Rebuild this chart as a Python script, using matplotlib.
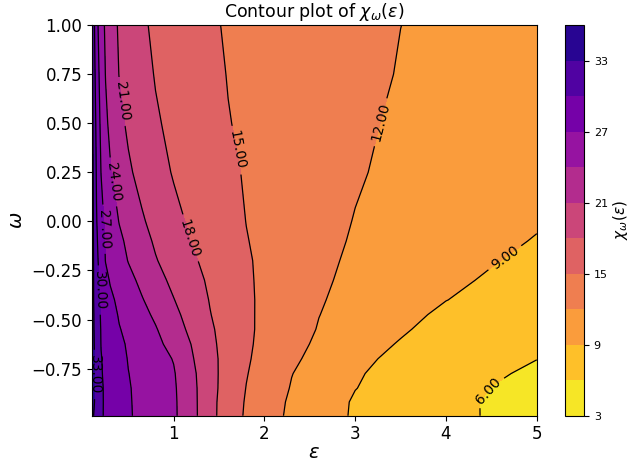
import numpy as np
import matplotlib
matplotlib.use("Agg")
import matplotlib.pyplot as plt

# sample grid: epsilon along x, omega along y
eps = [0.1, 0.12, 0.15, 0.2, 0.25, 0.3, 0.4, 0.5, 0.65, 0.8, 1.0, 1.2, 1.4,
       1.6, 1.8, 2.0, 2.3, 2.6, 3.0, 3.5, 4.0, 4.5, 5.0]
omega = [1.0, 0.75, 0.5, 0.25, 0.0, -0.1, -0.2, -0.3, -0.4, -0.475, -0.55,
         -0.625, -0.7, -0.775, -0.85, -0.92, -0.99]

# chi_omega(eps), one row per omega value
chi_w100 = [33.8, 30.75, 27.86, 25.29, 23.54, 22.38, 20.64, 19.73, 18.36, 17.58, 16.81, 16.04,
            15.27, 14.81, 14.51, 14.22, 13.78, 13.34, 12.75, 12.01, 11.55, 11.14, 10.78]
chi_w075 = [33.9, 31.3, 28.5, 25.8, 23.9, 22.86, 20.92, 20.11, 18.89, 17.85, 17.09, 16.33,
            15.57, 14.92, 14.59, 14.27, 13.78, 13.3, 12.65, 11.88, 11.45, 11.05, 10.7]
chi_w050 = [34.0, 32.0, 29.25, 26.29, 24.53, 23.4, 21.69, 20.55, 19.43, 18.3, 17.38, 16.62,
            15.85, 15.08, 14.67, 14.3, 13.76, 13.21, 12.48, 11.6, 11.1, 10.6, 10.2]
chi_w025 = [34.1, 32.27, 29.73, 26.95, 25.5, 24.27, 22.77, 21.41, 20.14, 19.07, 17.8, 17.01,
            16.22, 15.43, 14.81, 14.38, 13.74, 13.11, 12.26, 11.35, 10.7, 10.1, 9.6]
chi_w000 = [34.3, 32.57, 30.16, 27.88, 26.47, 25.59, 23.9, 22.86, 21.31, 20.14, 18.71, 17.57,
            16.7, 15.83, 14.97, 14.46, 13.69, 12.92, 11.9, 11.26, 10.59, 9.9, 9.25]
chi_wm010 = [34.2, 32.7, 30.45, 28.26, 26.74, 26.02, 24.58, 23.42, 21.97, 20.64, 19.21, 17.86,
             16.94, 16.02, 15.09, 14.5, 13.66, 12.82, 11.73, 11.09, 10.35, 9.6, 8.85]
chi_wm020 = [34.2, 32.79, 30.7, 28.67, 26.9, 26.35, 25.18, 23.9, 22.55, 21.18, 19.76, 18.38,
             17.27, 16.26, 15.25, 14.54, 13.62, 12.7, 11.48, 10.86, 10.02, 9.17, 8.35]
chi_wm030 = [34.04, 32.88, 31.15, 29.18, 27.82, 26.8, 25.8, 24.8, 23.36, 22.0, 20.36, 18.93,
             17.6, 16.47, 15.34, 14.53, 13.53, 12.53, 11.2, 10.55, 9.57, 8.68, 7.92]
chi_wm040 = [34.1, 32.9, 31.32, 29.52, 28.55, 27.58, 26.38, 25.5, 24.18, 22.85, 21.09, 19.46,
             17.88, 16.65, 15.43, 14.51, 13.37, 12.23, 11.08, 10.12, 9.04, 8.24, 7.44]
chi_wm048 = [34.0, 33.05, 31.53, 29.68, 28.89, 28.11, 26.76, 25.97, 24.79, 23.54, 21.69, 19.88,
             18.09, 16.76, 15.46, 14.47, 13.26, 12.04, 11.02, 9.76, 8.49, 7.89, 7.09]
chi_wm055 = [34.0, 33.09, 31.76, 29.86, 29.18, 28.5, 27.14, 26.36, 25.29, 24.21, 22.3, 20.32,
             18.39, 16.88, 15.49, 14.43, 13.1, 11.86, 10.74, 9.2, 8.38, 7.56, 6.74]
chi_wm063 = [34.07, 33.21, 31.93, 29.94, 29.35, 28.76, 27.59, 26.67, 25.7, 24.72, 23.04, 20.89,
             18.62, 16.93, 15.44, 14.3, 12.8, 11.57, 9.74, 8.88, 8.05, 7.21, 6.38]
chi_wm070 = [33.95, 33.3, 32.1, 30.1, 29.51, 28.96, 27.87, 26.88, 26.0, 25.12, 23.87, 21.26,
             18.84, 16.95, 15.32, 14.11, 12.44, 11.24, 9.42, 8.58, 7.73, 6.88, 6.03]
chi_wm078 = [34.09, 33.31, 32.14, 30.19, 29.54, 29.03, 28.02, 27.05, 26.19, 25.35, 24.22, 21.66,
             18.93, 16.87, 15.13, 13.88, 12.06, 10.91, 9.21, 8.25, 7.28, 6.31, 5.6]
chi_wm085 = [33.88, 33.3, 32.17, 30.35, 29.61, 29.13, 28.16, 27.19, 26.29, 25.47, 24.38, 21.83,
             18.95, 16.78, 14.94, 13.66, 11.84, 10.62, 9.05, 8.01, 6.99, 5.96, 5.3]
chi_wm092 = [34.02, 33.29, 32.2, 30.37, 29.62, 29.14, 28.19, 27.24, 26.33, 25.53, 24.46, 21.91,
             18.86, 16.62, 14.76, 13.38, 11.59, 10.37, 8.73, 7.82, 6.77, 5.74, 5.05]
chi_wm099 = [33.67, 32.93, 31.96, 30.33, 29.63, 29.16, 28.22, 27.28, 26.36, 25.55, 24.48, 21.94,
             18.86, 16.55, 14.64, 13.21, 11.48, 10.28, 8.68, 7.79, 6.75, 5.75, 4.85]

levels = np.arange(3, 37, 3)
cbar_ticks = [3, 9, 15, 21, 27, 33]
# where the inline labels sit (eps, omega)
label_spots = [(0.125, -0.78), (0.17, -0.35), (0.22, -0.04), (0.32, 0.2), (0.42, 0.61),
               (1.14, -0.09), (1.66, 0.36), (3.24, 0.51), (4.64, -0.18), (4.46, -0.86)]

Z = np.array([chi_w100, chi_w075, chi_w050, chi_w025, chi_w000, chi_wm010, chi_wm020,
              chi_wm030, chi_wm040, chi_wm048, chi_wm055, chi_wm063, chi_wm070,
              chi_wm078, chi_wm085, chi_wm092, chi_wm099])
E, W = np.meshgrid(eps, omega)

fig = plt.figure(figsize=(6.3, 4.65), dpi=100)
ax = fig.add_axes([0.146, 0.106, 0.706, 0.840])
cax = fig.add_axes([0.897, 0.106, 0.030, 0.840])

cf = ax.contourf(E, W, Z, levels=levels, cmap="plasma_r")
cs = ax.contour(E, W, Z, levels=levels, colors="k", linewidths=0.9)
labels = ax.clabel(cs, fmt="%.2f", fontsize=10, inline=True, manual=label_spots)
for t in labels:
    t.set_clip_on(False)

ax.set_xlim(0.1, 5.0)
ax.set_ylim(-0.99, 1.0)
ax.set_xticks([1, 2, 3, 4, 5])
ax.set_yticks(np.arange(-0.75, 1.01, 0.25))
ax.tick_params(labelsize=12)
ax.set_xlabel(r"$\varepsilon$", fontsize=14, labelpad=0)
ax.set_ylabel(r"$\omega$", fontsize=14)
ax.set_title(r"Contour plot of $\chi_\omega(\varepsilon)$", fontsize=12.5)

cb = fig.colorbar(cf, cax=cax, ticks=cbar_ticks)
cb.ax.tick_params(labelsize=8)
cb.set_label(r"$\chi_\omega(\varepsilon)$", fontsize=11, labelpad=2)

fig.savefig("out.png", dpi=100)
